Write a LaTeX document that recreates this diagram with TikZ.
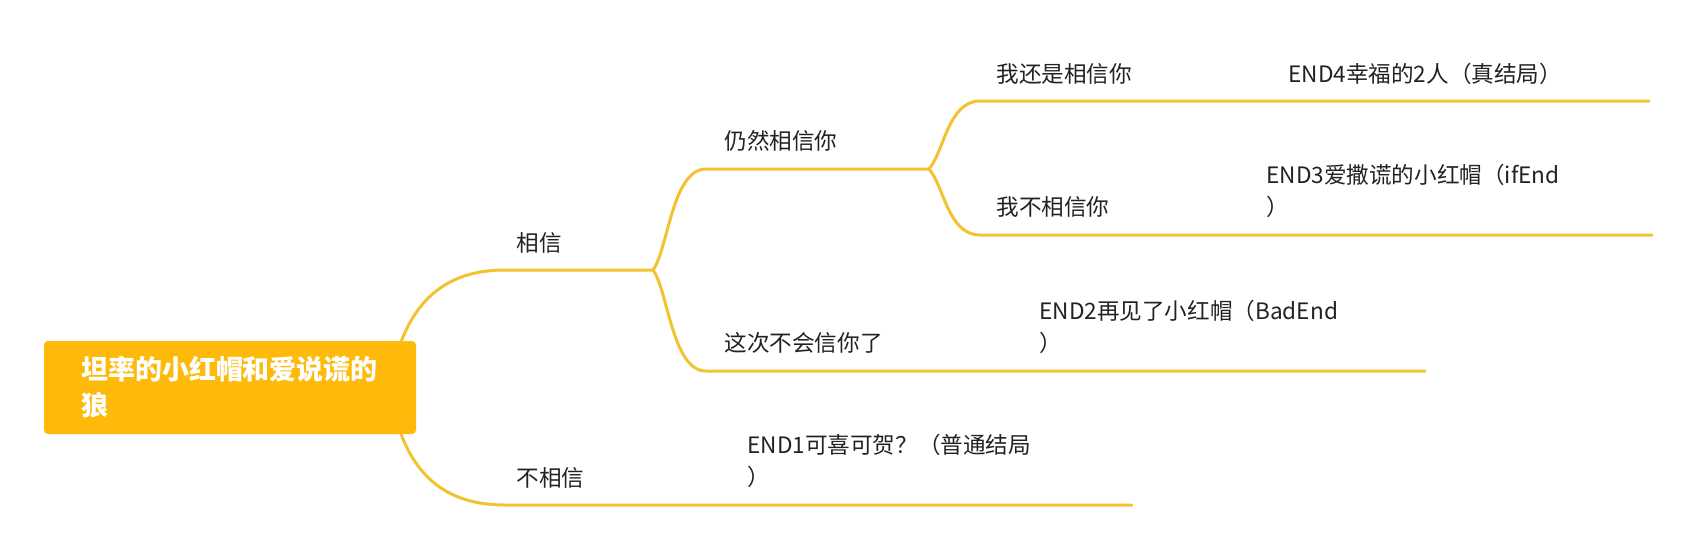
\documentclass[tikz,border=0pt]{standalone}
\usepackage{fontspec}
\setmainfont{Noto Sans CJK SC}
\definecolor{branch}{HTML}{F2C230}
\definecolor{rootfill}{HTML}{FDBA0A}
\definecolor{ink}{HTML}{222222}
\tikzset{
  conn/.style={draw=branch, line width=1.5pt, line cap=round},
  lbl/.style={anchor=west, inner sep=0pt, font=\fontsize{11.3pt}{16pt}\selectfont, text=ink, align=left},
  rootbox/.style={fill=rootfill, rounded corners=2pt, text=white, align=left,
    font=\fontsize{13.5pt}{18pt}\selectfont\bfseries, text width=149pt, inner xsep=18.5pt,
    minimum height=46.5pt, inner ysep=0pt}
}
\begin{document}
\begin{tikzpicture}[x=0.5pt, y=-0.5pt]
\useasboundingbox (0,0) rectangle (1699,553);
\node[rootbox] (root) at (230,387.5) {坦率的小红帽和爱说谎的\\狼};
\coordinate (rt) at (401,342);
\coordinate (rb) at (401,434);
\coordinate (a0) at (505,270); \coordinate (a1) at (653,270);
\coordinate (n0) at (505,505); \coordinate (n1) at (1132,505);
\coordinate (c0) at (706,169); \coordinate (c1) at (929,169);
\coordinate (d0) at (706,371); \coordinate (d1) at (1425,371);
\coordinate (e0) at (980,101); \coordinate (e1) at (1649,101);
\coordinate (f0) at (980,235); \coordinate (f1) at (1652,235);

\draw[conn] (rt) .. controls (420,292) and (455,270) .. (a0) -- (a1);
\draw[conn] (rb) .. controls (420,484) and (455,505) .. (n0) -- (n1);
\draw[conn] (a1) .. controls (668,250) and (672,169) .. (c0) -- (c1);
\draw[conn] (a1) .. controls (668,290) and (672,371) .. (d0) -- (d1);
\draw[conn] (c1) .. controls (944,152) and (948,101) .. (e0) -- (e1);
\draw[conn] (c1) .. controls (944,186) and (948,235) .. (f0) -- (f1);

\node[lbl] (l1) at (516,243) {相信};
\node[lbl] (l2) at (516,478) {不相信};
\node[lbl] (l3) at (724,141) {仍然相信你};
\node[lbl] (l4) at (724,343) {这次不会信你了};
\node[lbl] (l5) at (996,74) {我还是相信你};
\node[lbl] (l6) at (996,207) {我不相信你};
\node[lbl] (e4) at (1288,74) {END4幸福的2人（真结局）};
\node[lbl] (e3) at (1266,191) {END3爱撒谎的小红帽（ifEnd\\）};
\node[lbl] (e2) at (1039,326.5) {END2再见了小红帽（BadEnd\\）};
\node[lbl] (e1n) at (747,461) {END1可喜可贺？（普通结局\\）};
\end{tikzpicture}
\end{document}
